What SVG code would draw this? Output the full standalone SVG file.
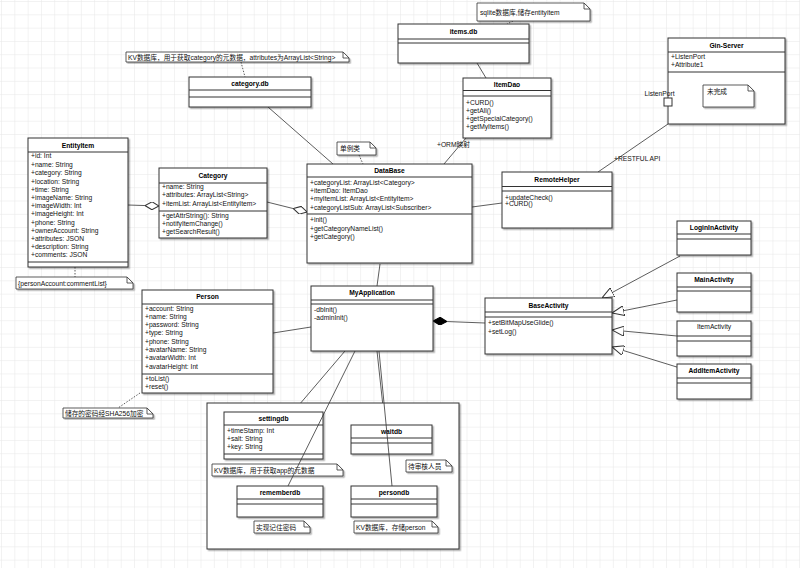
<svg xmlns="http://www.w3.org/2000/svg" width="800" height="568" viewBox="0 0 800 568">
<defs>
<pattern id="grid" width="13.3" height="13.3" patternUnits="userSpaceOnUse" x="2" y="2">
<path d="M13.3,0 V13.3 H0" fill="none" stroke="#e6e6e6" stroke-width="1"/>
</pattern>
<filter id="sh" x="-10%" y="-10%" width="130%" height="130%"><feDropShadow dx="1.5" dy="1.5" stdDeviation="0.7" flood-color="#000" flood-opacity="0.3"/></filter>
<marker id="tri" viewBox="0 0 12 10" refX="12" refY="5" markerWidth="12" markerHeight="10" markerUnits="userSpaceOnUse" orient="auto"><path d="M0,0 L12,5 L0,10 z" fill="#fff" stroke="#333" stroke-width="1"/></marker>
<marker id="dia" viewBox="0 0 14 8" refX="14" refY="4" markerWidth="14" markerHeight="8" markerUnits="userSpaceOnUse" orient="auto"><path d="M0,4 L7,0 L14,4 L7,8 z" fill="#fff" stroke="#333" stroke-width="1"/></marker>
<marker id="fdia" viewBox="0 0 14 8" refX="14" refY="4" markerWidth="14" markerHeight="8" markerUnits="userSpaceOnUse" orient="auto"><path d="M0,4 L7,0 L14,4 L7,8 z" fill="#000" stroke="#000" stroke-width="1"/></marker>
</defs>
<style>
.box{fill:#fff;stroke:#333;stroke-width:1;filter:url(#sh)}
.sep{stroke:#333;stroke-width:1;fill:none}
.ln{stroke:#333;stroke-width:0.8;fill:none}
.dt{stroke:#333;stroke-width:0.8;fill:none;stroke-dasharray:1.5,1.5}
.note{fill:#fff;stroke:#333;stroke-width:0.8;filter:url(#sh)}
.fold{fill:none;stroke:#333;stroke-width:0.8}
text{font-family:"Liberation Sans","Noto Sans CJK SC",Arial,sans-serif;font-size:6.7px;fill:#111}
.h{font-weight:bold;text-anchor:middle;fill:#000}
.m{text-anchor:middle}
</style>
<rect width="800" height="568" fill="#fff"/>
<rect width="800" height="568" fill="url(#grid)"/>

<g id="connectors">
<line class="dt" x1="513" y1="21" x2="507" y2="24"/>
<line class="ln" x1="477" y1="63" x2="486" y2="78"/>
<line class="ln" x1="466" y1="138" x2="444" y2="164"/>
<text x="437" y="146.5">+ORM映射</text>
<line class="dt" x1="241" y1="62" x2="245" y2="77"/>
<line class="ln" x1="268" y1="107" x2="333" y2="164"/>
<line class="dt" x1="359" y1="155" x2="363" y2="164"/>
<line class="ln" x1="128" y1="205" x2="159" y2="206" marker-end="url(#dia)"/>
<line class="ln" x1="267" y1="202" x2="307" y2="212" marker-end="url(#dia)"/>
<line class="ln" x1="472" y1="207" x2="502" y2="203"/>
<line class="ln" x1="668" y1="124" x2="598" y2="172"/>
<text x="614" y="160.5">+RESTFUL API</text>
<line class="dt" x1="75" y1="267" x2="75" y2="277"/>
<line class="ln" x1="380" y1="264" x2="377" y2="286"/>
<line class="ln" x1="485" y1="323" x2="433" y2="321" marker-end="url(#fdia)"/>
<line class="ln" x1="273" y1="333" x2="311" y2="327"/>
<line class="dt" x1="140" y1="393" x2="118" y2="408"/>
<line class="ln" x1="680" y1="256" x2="602" y2="298" marker-end="url(#tri)"/>
<line class="ln" x1="677" y1="300" x2="612" y2="313" marker-end="url(#tri)"/>
<line class="ln" x1="677" y1="336" x2="612" y2="330" marker-end="url(#tri)"/>
<line class="ln" x1="680" y1="368" x2="612" y2="347" marker-end="url(#tri)"/>
<line class="ln" x1="345" y1="351" x2="293" y2="412"/>
<line class="ln" x1="377" y1="351" x2="385" y2="425"/>
<line class="dt" x1="276" y1="459" x2="276" y2="464"/>
<line class="dt" x1="415" y1="454" x2="420" y2="460"/>
<line class="dt" x1="282" y1="517" x2="282" y2="521"/>
<line class="dt" x1="395" y1="517" x2="395" y2="521"/>
</g>

<g id="note-sqlite">
<path class="note" d="M477,3 H584 L590,9 V21 H477 Z"/><path class="fold" d="M584,3 V9 H590"/>
<text x="480" y="14.5">sqlite数据库,储存entityitem</text>
</g>
<g id="items-db">
<rect class="box" x="398" y="24" width="131" height="39"/>
<line class="sep" x1="398" y1="39" x2="529" y2="39"/><line class="sep" x1="398" y1="43" x2="529" y2="43"/>
<text class="h" x="463.5" y="34">items.db</text>
</g>
<g id="ItemDao">
<rect class="box" x="463" y="78" width="88" height="60"/>
<line class="sep" x1="463" y1="90.5" x2="551" y2="90.5"/><line class="sep" x1="463" y1="96" x2="551" y2="96"/>
<text class="h" x="507" y="87">ItemDao</text>
<text x="466" y="105.4">+CURD()</text>
<text x="466" y="113.4">+getAll()</text>
<text x="466" y="121.4">+getSpecialCategory()</text>
<text x="466" y="129.4">+getMyItems()</text>
</g>
<g id="note-category">
<path class="note" d="M126,52 H343 L349,58 V62 H126 Z"/><path class="fold" d="M343,52 V58 H349"/>
<text x="128" y="59.6">KV数据库，用于获取category的元数据，attributes为ArrayList&lt;String&gt;</text>
</g>
<g id="category-db">
<rect class="box" x="189" y="77" width="122" height="30"/>
<line class="sep" x1="189" y1="90" x2="311" y2="90"/><line class="sep" x1="189" y1="97" x2="311" y2="97"/>
<text class="h" x="250" y="86">category.db</text>
</g>
<g id="note-singleton">
<path class="note" d="M337,142 H370 L376,148 V155 H337 Z"/><path class="fold" d="M370,142 V148 H376"/>
<text x="340" y="151">单例类</text>
</g>
<g id="Gin-Server">
<rect class="box" x="668" y="38" width="117" height="86"/>
<line class="sep" x1="668" y1="52" x2="785" y2="52"/><line class="sep" x1="668" y1="72" x2="785" y2="72"/>
<text class="h" x="726.5" y="47.5">Gin-Server</text>
<text x="671" y="59.4">+ListenPort</text>
<text x="671" y="67.4">+Attribute1</text>
<path class="note" d="M703,85 H748 L754,91 V107 H703 Z"/><path class="fold" d="M748,85 V91 H754"/>
<text x="707" y="94">未完成</text>
<rect x="664" y="98" width="8" height="8" fill="#fff" stroke="#333" stroke-width="1"/>
<text class="m" x="659.5" y="95.5">ListenPort</text>
</g>
<g id="EntityItem">
<rect class="box" x="28" y="138" width="100" height="129"/>
<line class="sep" x1="28" y1="152" x2="128" y2="152"/><line class="sep" x1="28" y1="262" x2="128" y2="262"/>
<text class="h" x="78" y="147.5">EntityItem</text>
<text x="31" y="158.4">+id: Int</text>
<text x="31" y="167.4">+name: String</text>
<text x="31" y="175.4">+category: String</text>
<text x="31" y="184.4">+location: String</text>
<text x="31" y="192.4">+time: String</text>
<text x="31" y="200.4">+imageName: String</text>
<text x="31" y="208.4">+imageWidth: Int</text>
<text x="31" y="216.4">+imageHeight: Int</text>
<text x="31" y="225.4">+phone: String</text>
<text x="31" y="233.4">+ownerAccount: String</text>
<text x="31" y="241.4">+attributes: JSON</text>
<text x="31" y="249.4">+description: String</text>
<text x="31" y="257.4">+comments: JSON</text>
</g>
<g id="note-comment">
<path class="note" d="M16,277 H127 L133,283 V289 H16 Z"/><path class="fold" d="M127,277 V283 H133"/>
<text x="18" y="285.5">{personAccount:commentList}</text>
</g>
<g id="Category">
<rect class="box" x="159" y="168" width="108" height="70"/>
<line class="sep" x1="159" y1="183" x2="267" y2="183"/><line class="sep" x1="159" y1="211" x2="267" y2="211"/>
<text class="h" x="213" y="177.5">Category</text>
<text x="162" y="189.4">+name: String</text>
<text x="162" y="197.4">+attributes: ArrayList&lt;String&gt;</text>
<text x="162" y="206.4">+itemList: ArrayList&lt;EntityItem&gt;</text>
<text x="162" y="218.4">+getAttrString(): String</text>
<text x="162" y="226.4">+notifyItemChange()</text>
<text x="162" y="234.4">+getSearchResult()</text>
</g>
<g id="DataBase">
<rect class="box" x="307" y="164" width="165" height="99"/>
<line class="sep" x1="307" y1="177" x2="472" y2="177"/><line class="sep" x1="307" y1="214" x2="472" y2="214"/>
<text class="h" x="389.5" y="173">DataBase</text>
<text x="310" y="185.4">+categoryList: ArrayList&lt;Category&gt;</text>
<text x="310" y="193.4">+itemDao: ItemDao</text>
<text x="310" y="201.4">+myItemList: ArrayList&lt;EntityItem&gt;</text>
<text x="310" y="210.4">+categoryListSub: ArrayList&lt;Subscriber&gt;</text>
<text x="310" y="222.4">+init()</text>
<text x="310" y="231.4">+getCategoryNameList()</text>
<text x="310" y="239.4">+getCategory()</text>
</g>
<g id="RemoteHelper">
<rect class="box" x="502" y="172" width="110" height="56"/>
<line class="sep" x1="502" y1="186.5" x2="612" y2="186.5"/><line class="sep" x1="502" y1="191" x2="612" y2="191"/>
<text class="h" x="557" y="182">RemoteHelper</text>
<text x="505" y="199.7">+updateCheck()</text>
<text x="505" y="206.4">+CURD()</text>
</g>
<g id="LoginInActivity">
<rect class="box" x="677" y="221" width="74" height="34"/>
<line class="sep" x1="677" y1="234" x2="751" y2="234"/><line class="sep" x1="677" y1="239" x2="751" y2="239"/>
<text class="h" x="714" y="229.5">LoginInActivity</text>
</g>
<g id="MainActivity">
<rect class="box" x="677" y="273" width="74" height="39"/>
<line class="sep" x1="677" y1="287" x2="751" y2="287"/><line class="sep" x1="677" y1="291" x2="751" y2="291"/>
<text class="h" x="714" y="281.7">MainActivity</text>
</g>
<g id="ItemActivity">
<rect class="box" x="677" y="321" width="74" height="35"/>
<line class="sep" x1="677" y1="336" x2="751" y2="336"/><line class="sep" x1="677" y1="341" x2="751" y2="341"/>
<text class="m" x="714" y="329.4">ItemActivity</text>
</g>
<g id="AddItemActivity">
<rect class="box" x="677" y="364" width="74" height="35"/>
<line class="sep" x1="677" y1="378" x2="751" y2="378"/><line class="sep" x1="677" y1="383" x2="751" y2="383"/>
<text class="h" x="714" y="373">AddItemActivity</text>
</g>
<g id="BaseActivity">
<rect class="box" x="485" y="298" width="127" height="56"/>
<line class="sep" x1="485" y1="312" x2="612" y2="312"/><line class="sep" x1="485" y1="317" x2="612" y2="317"/>
<text class="h" x="548.5" y="307.5">BaseActivity</text>
<text x="488" y="325.4">+setBitMapUseGlide()</text>
<text x="488" y="334.4">+setLog()</text>
</g>
<g id="MyApplication">
<rect class="box" x="311" y="286" width="122" height="65"/>
<line class="sep" x1="311" y1="300" x2="433" y2="300"/><line class="sep" x1="311" y1="304" x2="433" y2="304"/>
<text class="h" x="372" y="295.3">MyApplication</text>
<text x="314" y="312.4">-dbInit()</text>
<text x="314" y="320.4">-adminInit()</text>
</g>
<g id="Person">
<rect class="box" x="142" y="290" width="131" height="103"/>
<line class="sep" x1="142" y1="304" x2="273" y2="304"/><line class="sep" x1="142" y1="374" x2="273" y2="374"/>
<text class="h" x="207.5" y="299.3">Person</text>
<text x="145" y="311.4">+account: String</text>
<text x="145" y="319.4">+name: String</text>
<text x="145" y="327.4">+password: String</text>
<text x="145" y="335.4">+type: String</text>
<text x="145" y="344.4">+phone: String</text>
<text x="145" y="352.4">+avatarName: String</text>
<text x="145" y="360.4">+avatarWidth: Int</text>
<text x="145" y="369.4">+avatarHeight: Int</text>
<text x="145" y="381.4">+toList()</text>
<text x="145" y="389.4">+reset()</text>
</g>
<g id="note-sha">
<path class="note" d="M63,408 H147 L153,414 V418 H63 Z"/><path class="fold" d="M147,408 V414 H153"/>
<text x="65" y="415.6">储存的密码经SHA256加密</text>
</g>
<g id="package">
<rect class="box" x="207" y="403" width="252" height="146"/>
</g>
<g id="settingdb">
<rect class="box" x="224" y="412" width="99" height="47"/>
<line class="sep" x1="224" y1="425" x2="323" y2="425"/><line class="sep" x1="224" y1="454" x2="323" y2="454"/>
<text class="h" x="273.5" y="420.7">settingdb</text>
<text x="227" y="433.4">+timeStamp: Int</text>
<text x="227" y="441.4">+salt: String</text>
<text x="227" y="449.4">+key: String</text>
</g>
<g id="note-app">
<path class="note" d="M212,464 H337 L343,470 V476 H212 Z"/><path class="fold" d="M337,464 V470 H343"/>
<text x="214" y="472.5">KV数据库，用于获取app的元数据</text>
</g>
<g id="waitdb">
<rect class="box" x="351" y="425" width="81" height="29"/>
<line class="sep" x1="351" y1="438" x2="432" y2="438"/><line class="sep" x1="351" y1="443" x2="432" y2="443"/>
<text class="h" x="391.5" y="434">waitdb</text>
</g>
<g id="note-wait">
<path class="note" d="M406,460 H446 L452,466 V472 H406 Z"/><path class="fold" d="M446,460 V466 H452"/>
<text x="408" y="468.5">待审核人员</text>
</g>
<g id="rememberdb">
<rect class="box" x="237" y="486" width="86" height="31"/>
<line class="sep" x1="237" y1="499" x2="323" y2="499"/><line class="sep" x1="237" y1="504" x2="323" y2="504"/>
<text class="h" x="280" y="494.7">rememberdb</text>
</g>
<g id="note-remember">
<path class="note" d="M254,521 H304 L310,527 V533 H254 Z"/><path class="fold" d="M304,521 V527 H310"/>
<text x="256" y="529.5">实现记住密码</text>
</g>
<g id="persondb">
<rect class="box" x="351" y="486" width="86" height="31"/>
<line class="sep" x1="351" y1="499" x2="437" y2="499"/><line class="sep" x1="351" y1="504" x2="437" y2="504"/>
<text class="h" x="394" y="494.7">persondb</text>
</g>
<g id="note-person">
<path class="note" d="M354,521 H432 L438,527 V533 H354 Z"/><path class="fold" d="M432,521 V527 H438"/>
<text x="356" y="529.5">KV数据库，存储person</text>
</g>
<g id="connectors-over">
<line class="ln" x1="355" y1="351" x2="288" y2="486"/>
<line class="ln" x1="379" y1="351" x2="392" y2="486"/>
</g>
</svg>
